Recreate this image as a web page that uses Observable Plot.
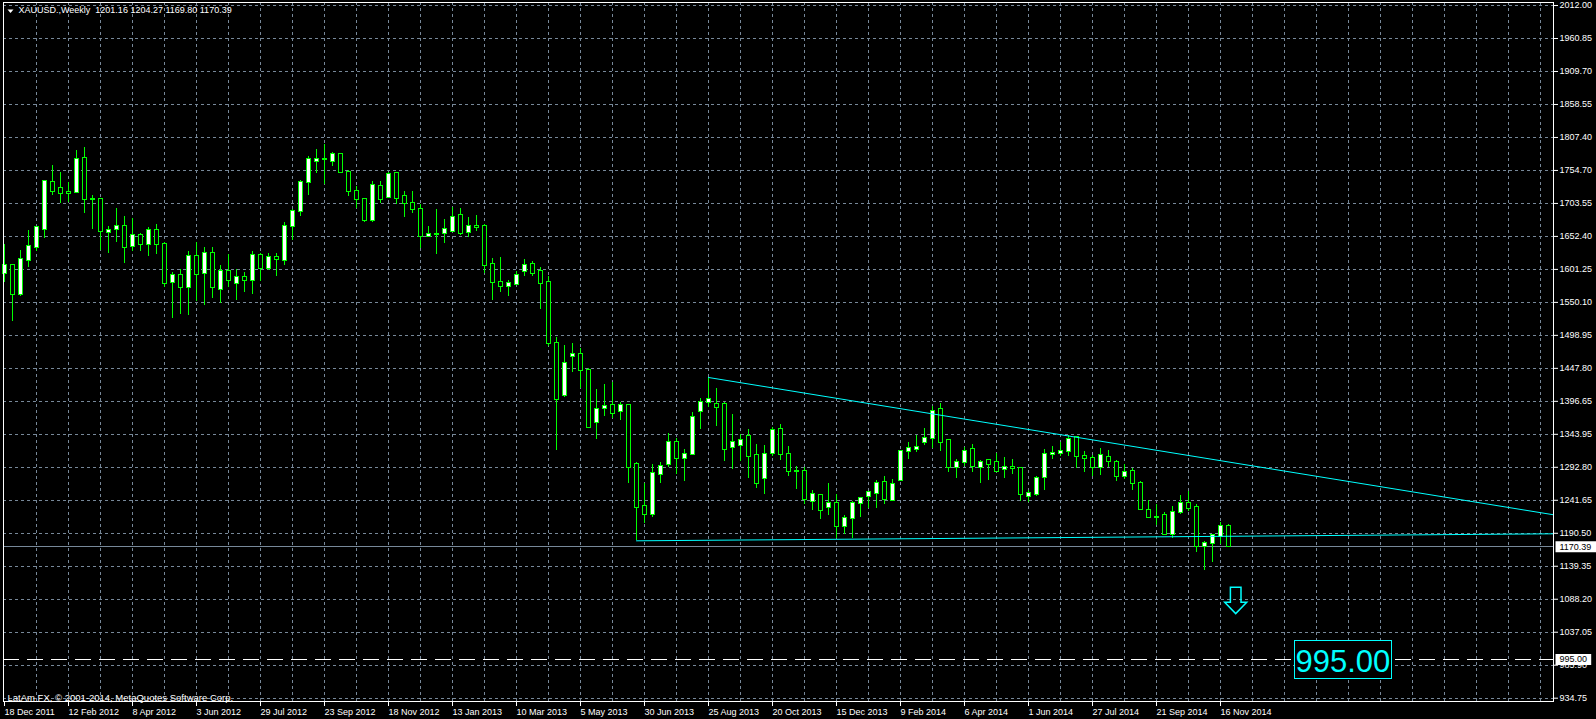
<!DOCTYPE html>
<html>
<head>
<meta charset="utf-8">
<script src="https://cdn.jsdelivr.net/npm/d3@7"></script>
<script src="https://cdn.jsdelivr.net/npm/@observablehq/plot@0.6"></script>
<style>
  html, body { margin: 0; padding: 0; background: #000; overflow: hidden; }
</style>
</head>
<body>
<div id="chart"></div>
<script>
// ---------------- data ----------------
const symbolName = "XAUUSD.,Weekly";
const copyright = "LatAm FX, \u00a9 2001-2014, MetaQuotes Software Corp.";

// weekly candles, first bar = week of 18 Dec 2011, last bar = week of 23 Nov 2014
const open = [1596,1607,1562,1615,1635,1663,1736,1727,1721,1721,
  1774,1711,1711,1659,1663,1669,1637,1654,1641,1662,
  1641,1581,1592,1574,1621,1595,1626,1571,1598,1579,
  1589,1584,1623,1603,1620,1615,1669,1691,1736,1770,
  1772,1770,1780,1753,1722,1710,1677,1730,1714,1750,
  1715,1704,1694,1653,1656,1657,1661,1685,1659,1668,
  1668,1609,1581,1575,1578,1598,1609,1598,1581,1487,
  1406,1466,1470,1444,1364,1385,1390,1380,1390,1298,
  1233,1221,1283,1298,1333,1307,1314,1380,1394,1392,
  1391,1325,1327,1341,1312,1277,1316,1352,1313,1288,
  1288,1240,1250,1231,1237,1202,1214,1237,1249,1253,
  1270,1242,1274,1319,1322,1333,1338,1383,1335,1293,
  1302,1321,1294,1304,1301,1290,1293,1292,1249,1252,
  1278,1313,1316,1319,1340,1310,1307,1293,1309,1302,
  1279,1288,1268,1226,1216,1219,1190,1224,1237,1231,
  1171,1176,1186,1201.16];
const high = [1641,1609,1631,1662,1667,1740,1763,1752,1737,1787,
  1791,1716,1712,1669,1696,1684,1680,1658,1666,1671,
  1643,1597,1601,1630,1643,1635,1635,1608,1625,1601,
  1597,1630,1627,1626,1626,1675,1695,1740,1777,1788,
  1796,1784,1782,1755,1730,1712,1738,1738,1752,1752,
  1723,1723,1702,1668,1695,1679,1698,1696,1683,1685,
  1671,1618,1620,1585,1599,1617,1614,1605,1591,1495,
  1484,1487,1478,1447,1415,1423,1426,1395,1392,1301,
  1268,1298,1301,1346,1338,1322,1379,1401,1434,1416,
  1394,1376,1345,1353,1330,1328,1356,1361,1326,1295,
  1294,1257,1252,1269,1251,1219,1241,1247,1256,1273,
  1280,1275,1320,1332,1344,1354,1388,1393,1337,1306,
  1325,1330,1305,1306,1316,1309,1306,1294,1258,1279,
  1322,1326,1333,1343,1342,1318,1312,1323,1320,1304,
  1298,1292,1272,1242,1236,1224,1233,1250,1256,1236,
  1178,1190,1208,1204.27];
const low = [1582,1521,1560,1604,1630,1649,1716,1704,1705,1720,
  1688,1663,1631,1627,1644,1611,1630,1629,1622,1625,
  1573,1526,1531,1530,1552,1545,1557,1548,1574,1554,
  1566,1562,1583,1600,1590,1608,1646,1684,1717,1751,
  1733,1762,1751,1715,1696,1674,1674,1704,1714,1703,
  1683,1689,1634,1651,1625,1642,1660,1654,1652,1661,
  1596,1553,1565,1560,1576,1590,1590,1540,1481,1320,
  1403,1441,1416,1354,1337,1373,1369,1366,1269,1180,
  1207,1215,1269,1294,1283,1272,1312,1352,1387,1358,
  1303,1291,1303,1277,1261,1251,1311,1304,1280,1259,
  1236,1226,1212,1219,1183,1190,1183,1216,1229,1230,
  1236,1240,1272,1306,1317,1328,1323,1319,1285,1277,
  1295,1285,1268,1274,1285,1276,1283,1241,1239,1248,
  1258,1306,1311,1311,1292,1286,1279,1281,1293,1272,
  1275,1257,1227,1214,1203,1189,1183,1220,1225,1161,
  1133,1145,1173,1169.80];
const close = [1607,1562,1617,1637,1666,1738,1723,1719,1719,1772,
  1711,1710,1660,1662,1668,1636,1655,1641,1662,1641,
  1580,1592,1573,1621,1593,1626,1573,1598,1584,1589,
  1584,1623,1603,1620,1617,1669,1691,1736,1772,1772,
  1773,1780,1753,1722,1711,1677,1732,1711,1749,1712,
  1704,1694,1653,1656,1656,1663,1683,1658,1668,1667,
  1608,1581,1575,1579,1592,1607,1596,1579,1487,1400,
  1456,1469,1444,1355,1383,1388,1378,1390,1293,1232,
  1221,1284,1295,1332,1307,1313,1372,1395,1399,1387,
  1322,1333,1335,1310,1269,1314,1351,1314,1288,1288,
  1243,1251,1227,1237,1201,1214,1237,1246,1254,1268,
  1244,1267,1318,1323,1325,1339,1380,1333,1293,1302,
  1318,1295,1302,1298,1288,1293,1292.5,1251,1253,1276,
  1313,1316,1319,1337,1310,1307,1293,1312,1303,1280,
  1285,1268,1228,1215,1216.3,1190,1223,1238,1230,1170,
  1176,1188,1201,1170.39];

// time axis labels (one every 8 weekly bars)
const dateLabels = ["18 Dec 2011","12 Feb 2012","8 Apr 2012","3 Jun 2012","29 Jul 2012",
  "23 Sep 2012","18 Nov 2012","13 Jan 2013","10 Mar 2013","5 May 2013","30 Jun 2013",
  "25 Aug 2013","20 Oct 2013","15 Dec 2013","9 Feb 2014","6 Apr 2014","1 Jun 2014",
  "27 Jul 2014","21 Sep 2014","16 Nov 2014"];
const barsPerDateLabel = 8;
const barsPerGridX = 4;
const futureBars = 193.625; // chart shift: empty space to the right

// price axis labels (top to bottom, evenly spaced grid)
const priceLabels = ["2012.00","1960.85","1909.70","1858.55","1807.40","1754.70","1703.55",
  "1652.40","1601.25","1550.10","1498.95","1447.80","1396.65","1343.95","1292.80",
  "1241.65","1190.50","1139.35","1088.20","1037.05","985.90","934.75"];
const priceDomain = [929.6, 2016.7];

// drawn objects
const resistance = [{i: 88, price: 1433.5}, {i: 193.625, price: 1220.0}];
const support = [{i: 79, price: 1179.5}, {i: 193.625, price: 1190.4}];
const target = 995.00;
const targetBox = [{i: 167.3, price: 995.00}];
const arrowMark = [{i: 153.9, price: 1087}];

// ---------------- chart ----------------
const lime = "#00ff00", cyan = "#00ffff", gridColor = "#778899";
const n = open.length;
const rows = open.map((o, i) => ({i, open: o, high: high[i], low: low[i], close: close[i], up: close[i] >= o}));
const last = rows[n - 1];

const gridTop = +priceLabels[0], gridBottom = +priceLabels[priceLabels.length - 1];
const gridY = priceLabels.map((_, k) => gridTop - k * (gridTop - gridBottom) / (priceLabels.length - 1));
const labelByPrice = new Map(gridY.map((p, k) => [p, priceLabels[k]]));
const dateTicks = dateLabels.map((_, k) => k * barsPerDateLabel);
const gridX = d3.range(barsPerGridX, futureBars, barsPerGridX);

const arrowSymbol = {draw(ctx) {
  ctx.moveTo(-5.3, -13); ctx.lineTo(5.3, -13); ctx.lineTo(5.3, 2); ctx.lineTo(11, 2);
  ctx.lineTo(0, 13.3); ctx.lineTo(-11, 2); ctx.lineTo(-5.3, 2); ctx.closePath();
}};
const boxSymbol = (w, h) => ({draw(ctx) { ctx.rect(-w / 2, -h / 2, w, h); }});
const tagSymbol = (w) => ({draw(ctx) { ctx.rect(2, -5.5, w, 11); }});
const triSymbol = {draw(ctx) { ctx.moveTo(-3, -2); ctx.lineTo(3, -2); ctx.lineTo(0, 1.5); ctx.closePath(); }};

const header = `${symbolName}\u00a0\u00a0${[last.open, last.high, last.low, last.close].map(v => v.toFixed(2)).join(" ")}`;

const chart = Plot.plot({
  width: 1596,
  height: 719,
  marginTop: 2,
  marginBottom: 18,
  marginLeft: 3,
  marginRight: 43,
  style: {background: "#000", color: "#fff", fontFamily: "Tahoma, 'Liberation Sans', Arial, sans-serif", fontSize: "9px"},
  x: {type: "linear", domain: [-0.125, futureBars]},
  y: {domain: priceDomain},
  color: {type: "identity"},
  marks: [
    Plot.ruleY(gridY, {stroke: gridColor, strokeDasharray: "3,3", shapeRendering: "crispEdges"}),
    Plot.ruleX(gridX, {stroke: gridColor, strokeDasharray: "3,3", shapeRendering: "crispEdges"}),
    Plot.ruleY([target], {stroke: "#fff", strokeDasharray: "16,8", shapeRendering: "crispEdges"}),
    Plot.ruleY([last.close], {stroke: gridColor, shapeRendering: "crispEdges"}),
    Plot.ruleX(rows, {x: "i", y1: "low", y2: "high", stroke: lime, shapeRendering: "crispEdges"}),
    Plot.rect(rows, {
      x1: d => d.i - 0.25, x2: d => d.i + 0.25, y1: "open", y2: "close",
      fill: d => d.up ? "#ffffff" : "#000000", stroke: lime, strokeWidth: 1,
      insetTop: -0.5, insetBottom: -0.5, shapeRendering: "crispEdges"
    }),
    Plot.line(support, {x: "i", y: "price", stroke: cyan, strokeWidth: 1}),
    Plot.line(resistance, {x: "i", y: "price", stroke: cyan, strokeWidth: 1}),
    Plot.dot(arrowMark, {x: "i", y: "price", symbol: arrowSymbol, stroke: cyan, strokeWidth: 1.5, fill: "none"}),
    Plot.dot(targetBox, {x: "i", y: "price", symbol: boxSymbol(96.3, 38.7), stroke: cyan, strokeWidth: 1, fill: "#000", shapeRendering: "crispEdges"}),
    Plot.text(targetBox, {x: "i", y: "price", text: d => d.price.toFixed(2), fill: cyan, fontSize: 31, fontFamily: "'Liberation Sans', Arial, sans-serif", dy: 3}),
    Plot.frame({stroke: "#fff", shapeRendering: "crispEdges"}),
    Plot.axisY({anchor: "right", ticks: gridY, tickFormat: d => labelByPrice.get(d), tickSize: 4, tickPadding: 2, stroke: "#fff", fill: "#fff", fontSize: 9, label: null}),
    Plot.axisX({anchor: "bottom", ticks: dateTicks, tickFormat: d => dateLabels[Math.round(d / barsPerDateLabel)], tickSize: 5, tickPadding: 2, textAnchor: "start", stroke: "#fff", fill: "#fff", fontSize: 9, label: null}),
    Plot.dot([last.close], {y: d => d, frameAnchor: "right", symbol: tagSymbol(43), fill: "#fff", stroke: "none"}),
    Plot.text([last.close], {y: d => d, frameAnchor: "right", text: d => d.toFixed(2), dx: 6, textAnchor: "start", fill: "#000", fontSize: 9}),
    Plot.dot([target], {y: d => d, frameAnchor: "right", symbol: tagSymbol(35.7), fill: "#fff", stroke: "none"}),
    Plot.text([target], {y: d => d, frameAnchor: "right", text: d => d.toFixed(2), dx: 6, textAnchor: "start", fill: "#000", fontSize: 9}),
    Plot.dot([0], {frameAnchor: "top-left", dx: 7, dy: 9, symbol: triSymbol, fill: "#fff", stroke: "none"}),
    Plot.text([header], {frameAnchor: "top-left", dx: 15, dy: 4, lineAnchor: "top", textAnchor: "start", fill: "#fff", fontSize: 9}),
    Plot.text([copyright], {frameAnchor: "bottom-left", dx: 4, dy: -1, lineAnchor: "bottom", textAnchor: "start", fill: "#fff", fontSize: 9.5})
  ]
});
document.getElementById("chart").appendChild(chart);
</script>
</body>
</html>
